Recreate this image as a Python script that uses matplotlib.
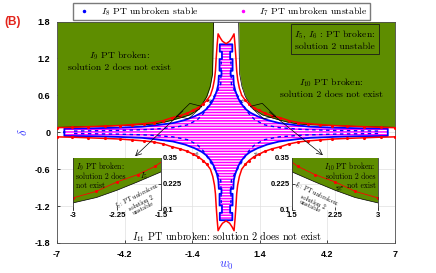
import numpy as np
import matplotlib
matplotlib.use('Agg')
import matplotlib.pyplot as plt
from matplotlib.lines import Line2D

plt.rcParams['mathtext.fontset'] = 'cm'
plt.rcParams['hatch.linewidth'] = 1.1

#################################
# values, left half (w0 <= 0); right half is the mirror image
green_w = [-7, -6, -5, -4, -3.5, -3, -2.6, -2.25, -1.9, -1.5, -1.2, -1.0, -0.8, -0.66, -0.56, -0.52]
green_d = [0.08, 0.09, 0.1, 0.115, 0.122, 0.134, 0.16, 0.195, 0.235, 0.283, 0.36, 0.45, 0.58, 0.74, 0.95, 1.8]

red_w = [-7, -6.4, -5.7, -5.0, -4.4, -3.9, -3.4, -3.0, -2.6, -2.25, -1.9, -1.6, -1.35, -1.15,
         -0.95, -0.8, -0.65, -0.55, -0.48, -0.44, -0.41, -0.37, -0.33, -0.25, -0.15, 0]
red_d = [0.075, 0.08, 0.09, 0.1, 0.11, 0.125, 0.14, 0.158, 0.19, 0.235, 0.27, 0.31, 0.36, 0.4,
         0.46, 0.52, 0.6, 0.72, 0.86, 1.0, 1.2, 1.42, 1.6, 1.54, 1.48, 1.44]

blue_w = [-6.7, -6.7, -5.5, -4.5, -3.5, -3.0, -2.2, -1.7, -1.3, -1.0, -0.8, -0.6, -0.47, -0.38,
          -0.32, -0.3, -0.19, -0.19, -0.27, -0.27, -0.17, -0.17, -0.26, -0.26, 0]
blue_d = [0.0, 0.06, 0.065, 0.075, 0.09, 0.11, 0.15, 0.2, 0.26, 0.32, 0.38, 0.48, 0.58, 0.68,
          0.78, 0.92, 0.92, 1.0, 1.0, 1.19, 1.19, 1.31, 1.31, 1.43, 1.43]

inner_w = [-6.3, -4.5, -3.2, -2.2, -1.6, -1.2, -0.95, -0.75, -0.55, -0.35, -0.22, -0.2]
inner_d = [0.02, 0.03, 0.045, 0.075, 0.12, 0.2, 0.3, 0.42, 0.55, 0.68, 0.78, 1.15]

box_w = [-2.05, -1.5, -1.0, -1.55, -2.05]
box_d = [0.26, 0.47, 0.42, 0.22, 0.26]

xticks = [-7, -4.2, -1.4, 1.4, 4.2, 7]
xtick_labels = ['-7', '-4.2', '-1.4', '1.4', '4.2', '7']
yticks = [-1.8, -1.2, -0.6, 0, 0.6, 1.2, 1.8]
ytick_labels = ['-1.8', '-1.2', '-0.6', '0', '0.6', '1.2', '1.8']
#################################

green = '#5e8d00'
magenta = '#ff00ff'
lab_blue = '#3a3aff'
tick_font = dict(family='Liberation Sans', weight='bold', size=6.5)
cm_font = 'cmr10'


def mirror(w, d):
    # left half + reflected right half
    w = list(w)
    d = list(d)
    return np.array(w + [-x for x in w[::-1]]), np.array(d + d[::-1])


fig = plt.figure(figsize=[4.36, 2.73], dpi=100)
ax = fig.add_axes([0.131, 0.11, 0.775, 0.811])
ax.set_xlim(-7, 7)
ax.set_ylim(-1.8, 1.8)
ax.grid(True, color='0.88', lw=0.5)
ax.set_axisbelow(True)

# green PT broken regions
gw = np.array(green_w)
gd = np.array(green_d)
for s in [1, -1]:
    ax.fill_between(s*gw, gd, 1.8, color=green, lw=0, zorder=1)
    ax.plot(s*gw, gd, color='k', lw=0.5, zorder=1.5)

# blue / magenta unbroken region
uw, ud = mirror(blue_w, blue_d)
ow = np.concatenate([uw, uw[::-1]])
od = np.concatenate([ud, -ud[::-1]])
ax.fill(ow, od, facecolor='white', edgecolor=magenta, lw=0, hatch='------', zorder=2)
for s1 in [1, -1]:
    for s2 in [1, -1]:
        ax.plot(s1*np.array(inner_w), s2*np.array(inner_d), color='blue', lw=1.0,
                ls=(0, (2.5, 2.5)), zorder=2.5)
ax.plot(ow, od, color='blue', lw=1.3, zorder=3)

# red boundary
rw, rd = mirror(red_w, red_d)
marks = [i for i in range(len(rw)) if abs(rw[i]) >= 0.8]
for s in [1, -1]:
    ax.plot(rw, s*rd, color='red', lw=1.1, marker='.', ms=2.5, markevery=marks, zorder=4)

# zoom markers and arrows
for s in [1, -1]:
    ax.plot(s*np.array(box_w), box_d, color='k', lw=0.5, zorder=5)
ax.annotate('', xy=(-3.85, -0.42), xytext=(-1.7, 0.38),
            arrowprops=dict(arrowstyle='->', color='k', lw=0.5), zorder=5)
ax.annotate('', xy=(4.1, -0.4), xytext=(1.7, 0.36),
            arrowprops=dict(arrowstyle='->', color='k', lw=0.5), zorder=5)

# region labels
ax.text(-4.4, 1.16, '$I_9$ PT broken:\nsolution 2 does not exist', ha='center', va='center',
        fontsize=7, family=cm_font, zorder=6)
ax.text(4.35, 0.72, '$I_{10}$ PT broken:\nsolution 2 does not exist', ha='center', va='center',
        fontsize=7, family=cm_font, zorder=6)
ax.text(4.5, 1.5, '$I_5$, $I_6$ : PT broken:\nsolution 2 unstable', ha='center', va='center',
        fontsize=7, family=cm_font, zorder=6,
        bbox=dict(boxstyle='square,pad=0.35', fc='none', ec='0.1', lw=0.6))
ax.text(0.05, -1.69, '$I_{11}$ PT unbroken: solution 2 does not exist', ha='center', va='center',
        fontsize=7.3, family=cm_font, zorder=6)
for s in [1, -1]:
    ax.text(s*0.62, 0.52, '$I_5$', fontsize=3.5, ha='center', va='center', rotation=-s*60, zorder=6)
    ax.text(s*1.25, -0.35, '$I_6$', fontsize=3.5, ha='center', va='center', rotation=s*40, zorder=6)

ax.set_xticks(xticks)
ax.set_xticklabels(xtick_labels, **tick_font)
ax.set_yticks(yticks)
ax.set_yticklabels(ytick_labels, **tick_font)
ax.tick_params(direction='in', length=2, width=0.5, pad=5)
for sp in ax.spines.values():
    sp.set_color('0.3')
    sp.set_linewidth(0.6)
ax.set_xlabel('$w_0$', color=lab_blue, fontsize=9, labelpad=0)
ax.set_ylabel(r'$\delta$', color=lab_blue, fontsize=9, labelpad=3)

handles = [Line2D([], [], ls='none', marker='.', ms=3, color='blue'),
           Line2D([], [], ls='none', marker='.', ms=3, color=magenta)]
ax.legend(handles, ['$I_8$ PT unbroken stable', '$I_7$ PT unbroken unstable'], ncol=2,
          loc='lower center', bbox_to_anchor=(0.487, 1.005), borderaxespad=0,
          prop=dict(family=cm_font, size=7), frameon=True, fancybox=False,
          edgecolor='0.35', handlelength=1.8, columnspacing=3.6, borderpad=0.25)

fig.text(0.03, 0.918, '(B)', color='#e3241b', fontsize=8.5, fontweight='bold',
         family='Liberation Sans', ha='center', va='center')

# insets
inset_font = dict(family='Liberation Sans', weight='bold', size=5.5)
for side in [-1, 1]:
    # side -1: left inset (data as read), side 1: right inset (mirrored data)
    if side < 0:
        axi = fig.add_axes([73/436, 1-210/273, 88/436, 52/273])
        axi.set_xlim(-3, -1.5)
        axi.set_xticks([-3, -2.25, -1.5])
        axi.set_xticklabels(['-3', '-2.25', '-1.5'], **inset_font)
        axi.yaxis.tick_right()
    else:
        axi = fig.add_axes([292/436, 1-210/273, 86/436, 52/273])
        axi.set_xlim(1.5, 3)
        axi.set_xticks([1.5, 2.25, 3])
        axi.set_xticklabels(['1.5', '2.25', '3'], **inset_font)
    axi.spines['top'].set_visible(False)
    axi.spines['bottom'].set_visible(False)
    axi.set_ylim(0.1, 0.35)
    axi.set_yticks([0.1, 0.225, 0.35])
    axi.set_yticklabels(['0.1', '0.225', '0.35'], **inset_font)
    axi.tick_params(direction='in', length=2, width=0.5, pad=1.5)
    axi.grid(True, color='0.88', lw=0.5)
    axi.set_axisbelow(True)
    axi.fill_between(-side*gw, gd, 0.35, color=green, lw=0)
    axi.plot(-side*gw, gd, color='k', lw=0.5)
    axi.plot(-side*np.array(red_w), red_d, color='red', lw=0.6, marker='.', ms=2.5)
    for sp in axi.spines.values():
        sp.set_color('0.2')
        sp.set_linewidth(0.6)

    if side < 0:
        axi.text(0.03, 0.95, '$I_9$ PT broken:\nsolution 2 does\nnot exist', transform=axi.transAxes,
                 ha='left', va='top', fontsize=5.5, family=cm_font, linespacing=1.0)
        axi.text(-1.8, 0.262, '$I_5$', fontsize=5.5, ha='center', va='center')
        axi.text(-1.86, 0.143, '$I_7$: PT unbroken:\nsolution 2\nunstable', fontsize=4.5,
                 family=cm_font, ha='center', va='center', rotation=27, linespacing=0.9)
    else:
        axi.text(0.97, 0.95, '$I_{10}$ PT broken:\nsolution 2 does\nnot exist', transform=axi.transAxes,
                 ha='right', va='top', fontsize=5.5, family=cm_font, linespacing=1.0)
        axi.text(2.3, 0.205, '$I_6$', fontsize=5.5, ha='center', va='center', rotation=-70)
        axi.text(1.88, 0.15, '$I_7$: PT unbroken:\nsolution 2\nunstable', fontsize=4.5,
                 family=cm_font, ha='center', va='center', rotation=-25, linespacing=0.9)

fig.savefig('out.png', dpi=100)
